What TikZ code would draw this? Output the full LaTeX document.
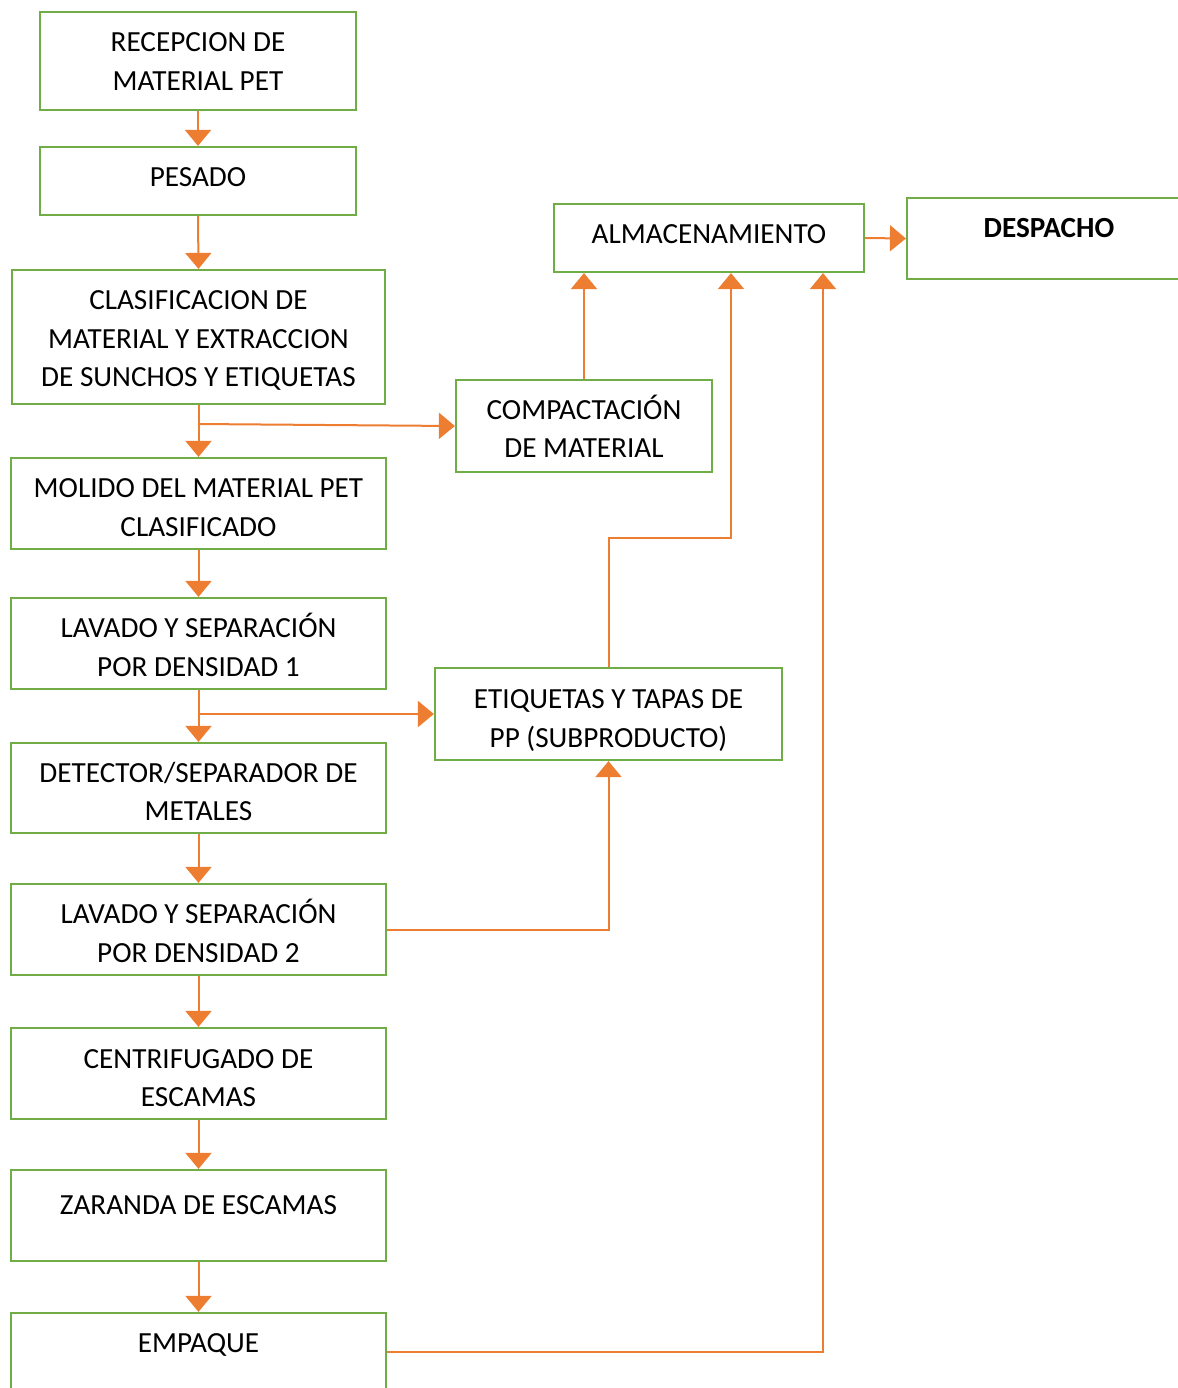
\documentclass[tikz,border=0pt]{standalone}
\usepackage{fontspec}
\setmainfont{Carlito}
\usetikzlibrary{arrows.meta}
\definecolor{boxgreen}{HTML}{70AD47}
\definecolor{flowline}{HTML}{ED7D31}
\tikzset{
  box/.style={draw=boxgreen, line width=1.1pt, align=center, inner sep=0pt,
    font=\fontsize{14.6}{19.25}\selectfont},
  multibox/.style={box, text depth=0pt, text height=32.65pt},
  flow/.style={draw=flowline, line width=1pt, -{Triangle[width=13pt,length=8pt]}},
}
\begin{document}
\begin{tikzpicture}[x=0.5pt,y=-0.5pt]
      \useasboundingbox (0,0) rectangle (1178,1388);
      \clip (0,0) rectangle (1178,1388);
      \draw
        (198,61) node[multibox, minimum width=158pt, minimum height=49pt, text height=29.15pt] (recepcion){RECEPCION DE\\MATERIAL PET}
        (198,181) node[box, minimum width=158pt, minimum height=34pt, text depth=4pt] (pesado){PESADO}
        (198.5,337) node[multibox, minimum width=186.5pt, minimum height=67pt, text height=49.9pt] (clasificacion){CLASIFICACION DE\\MATERIAL Y EXTRACCION\\DE SUNCHOS Y ETIQUETAS}
        (584,426) node[multibox, minimum width=128pt, minimum height=46pt, text height=31.65pt] (compactacion){COMPACTACIÓN\\DE MATERIAL}
        (709,238) node[box, minimum width=155pt, minimum height=34pt, text depth=4pt] (almacenamiento){ALMACENAMIENTO}
        (1049,238.5) node[box, minimum width=142pt, minimum height=40.5pt, text depth=10.5pt, font=\fontsize{14.6}{19.25}\selectfont\bfseries] (despacho){DESPACHO}
        (198.5,503.5) node[multibox, minimum width=187.5pt, minimum height=45.5pt] (molido){MOLIDO DEL MATERIAL PET\\CLASIFICADO}
        (198.5,643.5) node[multibox, minimum width=187.5pt, minimum height=45.5pt] (lavadoA){LAVADO Y SEPARACIÓN\\POR DENSIDAD 1}
        (608.5,714) node[multibox, minimum width=173.5pt, minimum height=46pt, text height=33.15pt] (etiquetas){ETIQUETAS Y TAPAS DE\\PP (SUBPRODUCTO)}
        (198.5,788) node[multibox, minimum width=187.5pt, minimum height=45pt] (detector){DETECTOR/SEPARADOR DE\\METALES}
        (198.5,929.5) node[multibox, minimum width=187.5pt, minimum height=45.5pt] (lavadoB){LAVADO Y SEPARACIÓN\\POR DENSIDAD 2}
        (198.5,1073.5) node[multibox, minimum width=187.5pt, minimum height=45.5pt, text height=33.15pt] (centrifugado){CENTRIFUGADO DE\\ESCAMAS}
        (198.5,1215.5) node[box, minimum width=187.5pt, minimum height=45.5pt, text depth=10.5pt] (zaranda){ZARANDA DE ESCAMAS}
        (198.5,1358.5) node[box, minimum width=187.5pt, minimum height=45.5pt, text depth=15.5pt] (empaque){EMPAQUE};
      \coordinate (c1) at (198,424);
      \coordinate (c2) at (198,714);
      \coordinate (c3) at (731,538);
      \coordinate (c4) at (823,1352);
      \begin{scope}[flow]
        \draw (recepcion.south) to (pesado.north);
        \draw (pesado.south) to (clasificacion.north);
        \draw (clasificacion.south) to (molido.north);
        \draw (c1) to (compactacion.west);
        \draw (compactacion.north) to (compactacion.north |- almacenamiento.south);
        \draw (almacenamiento.east) to (despacho.west);
        \draw (molido.south) to (lavadoA.north);
        \draw (lavadoA.south) to (detector.north);
        \draw (c2) to (etiquetas.west);
        \draw (etiquetas.north) |- (c3) -- (c3 |- almacenamiento.south);
        \draw (detector.south) to (lavadoB.north);
        \draw (lavadoB.east) -| (etiquetas.south);
        \draw (lavadoB.south) to (centrifugado.north);
        \draw (centrifugado.south) to (zaranda.north);
        \draw (zaranda.south) to (empaque.north);
        \draw (c4 -| empaque.east) -- (c4) -- (c4 |- almacenamiento.south);
      \end{scope}
    \end{tikzpicture}
\end{document}
